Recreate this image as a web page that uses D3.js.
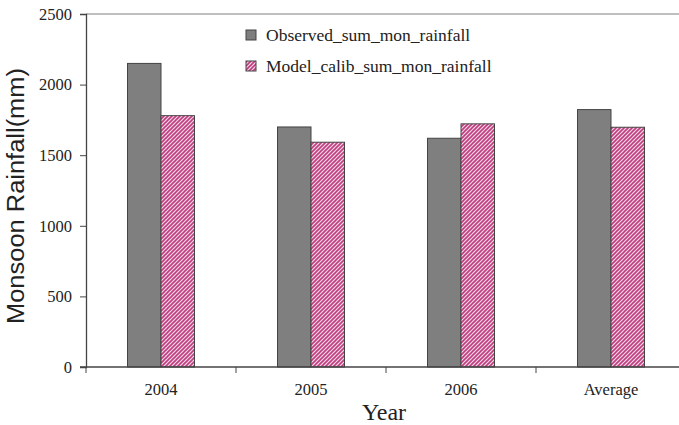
<!DOCTYPE html>
<html><head><meta charset="utf-8">
<script src="https://cdn.jsdelivr.net/npm/d3@7"></script>
<style>body{margin:0;background:#fff}svg{display:block}</style>
</head><body>
<script>
const categories = ["2004", "2005", "2006", "Average"];
const observed = [2150, 1700, 1620, 1823];
const modelCalib = [1780, 1592, 1722, 1698];
const yTicks = [0, 500, 1000, 1500, 2000, 2500];
const seriesNames = ["Observed_sum_mon_rainfall", "Model_calib_sum_mon_rainfall"];

const W = 679, H = 425;
const m = {left: 86, top: 14, bottom: 58};
const plotW = 600, plotH = H - m.top - m.bottom;

const svg = d3.select("body").append("svg").attr("width", W).attr("height", H);
const defs = svg.append("defs");
const pat = defs.append("pattern").attr("id", "hatch").attr("patternUnits", "userSpaceOnUse")
  .attr("width", 4).attr("height", 4);
pat.append("rect").attr("width", 4).attr("height", 4).attr("fill", "#f4d8e6");
pat.append("path").attr("d", "M-1,1 l2,-2 M0,4 l4,-4 M3,5 l2,-2")
  .attr("stroke", "#c03c80").attr("stroke-width", 1.6);

const x0 = d3.scaleBand().domain(categories).range([m.left, m.left + plotW]);
const x1 = d3.scaleBand().domain([0, 1]).range([0, 67]);
const y = d3.scaleLinear().domain([0, 2500]).range([m.top + plotH, m.top]);

// top frame line
svg.append("line").attr("x1", m.left).attr("x2", W).attr("y1", y(2500)).attr("y2", y(2500))
  .attr("stroke", "#aaa").attr("stroke-width", 1.5);

const fills = ["#7f7f7f", "url(#hatch)"];
const data = [observed, modelCalib];
data.forEach((vals, si) => {
  svg.append("g").selectAll("rect").data(vals).join("rect")
    .attr("x", (d, i) => x0(categories[i]) + x0.bandwidth() / 2 - 33.5 + x1(si))
    .attr("y", d => y(d))
    .attr("width", x1.bandwidth())
    .attr("height", d => y(0) - y(d))
    .attr("fill", fills[si])
    .attr("stroke", "#444").attr("stroke-width", 1);
});

// y axis
const ya = svg.append("g").attr("transform", `translate(${m.left},0)`)
  .call(d3.axisLeft(y).tickValues(yTicks).tickSize(6).tickPadding(8).tickFormat(d3.format("d")));
ya.select(".domain").attr("stroke", "#444").attr("stroke-width", 1.3);
ya.selectAll(".tick line").attr("stroke", "#444");
ya.selectAll("text").attr("font-family", "Liberation Serif").attr("font-size", 16.5).attr("fill", "#222");

// x axis
const xa = svg.append("g").attr("transform", `translate(0,${y(0)})`)
  .call(d3.axisBottom(x0).tickSize(0).tickPadding(16));
xa.select(".domain").remove();
xa.append("line").attr("x1", m.left - 6).attr("x2", W).attr("stroke", "#444").attr("stroke-width", 1.3);
xa.selectAll("text").attr("font-family", "Liberation Serif").attr("font-size", 16.5).attr("fill", "#222");
xa.selectAll(".sep").data(categories).join("line").attr("class", "sep")
  .attr("x1", d => x0(d)).attr("x2", d => x0(d)).attr("y1", 0).attr("y2", 6)
  .attr("stroke", "#444");

// axis titles
svg.append("text").attr("x", 384).attr("y", 420).attr("text-anchor", "middle")
  .attr("font-family", "Liberation Serif").attr("font-size", 24).attr("fill", "#222").text("Year");
svg.append("text").attr("transform", "translate(24,196) rotate(-90)").attr("text-anchor", "middle")
  .attr("font-family", "Liberation Sans").attr("font-size", 23).attr("fill", "#222")
  .attr("textLength", 256).attr("lengthAdjust", "spacingAndGlyphs").text("Monsoon Rainfall(mm)");

// legend
const lg = svg.append("g");
seriesNames.forEach((n, i) => {
  const yy = 35 + i * 31;
  lg.append("rect").attr("x", 246).attr("y", yy - 5).attr("width", 10).attr("height", 10)
    .attr("fill", fills[i]).attr("stroke", "#444").attr("stroke-width", 1);
  lg.append("text").attr("x", 266).attr("y", yy + 6).attr("font-family", "Liberation Serif")
    .attr("font-size", 17.5).attr("fill", "#222").text(n);
});
</script>
</body></html>
